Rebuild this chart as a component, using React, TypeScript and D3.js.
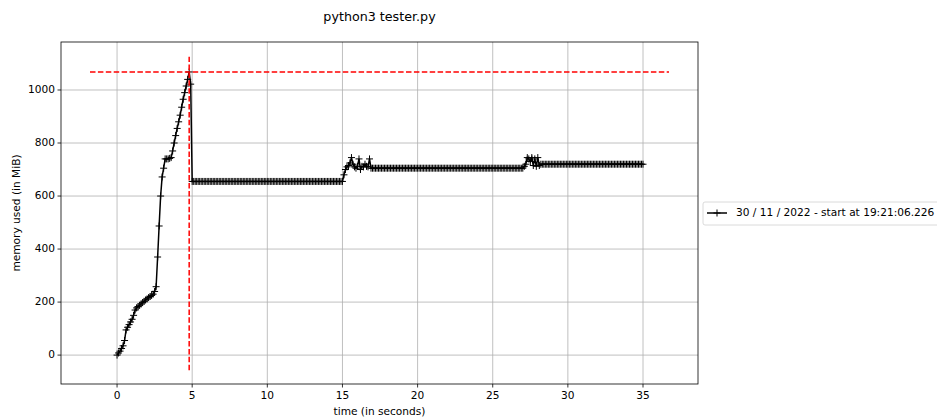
import React from "react";
import * as d3 from "d3";

const TITLE = "python3 tester.py";
const X_LABEL = "time (in seconds)";
const Y_LABEL = "memory used (in MiB)";
const LEGEND_LABEL = "30 / 11 / 2022 - start at 19:21:06.226";
const SAMPLE_INTERVAL = 0.1;
const X_TICKS = [0, 5, 10, 15, 20, 25, 30, 35];
const Y_TICKS = [0, 200, 400, 600, 800, 1000];
const X_DOMAIN = [-3.73, 38.66];
const Y_DOMAIN = [-109, 1181];

const MEMORY = [
  0, 8, 15, 25, 35, 55, 95, 105, 115, 125,
  135, 150, 170, 178, 183, 188, 193, 198, 203, 208,
  212, 217, 221, 225, 230, 240, 258,
  370, 487, 600, 672, 705, 740, 740, 740, 742, 745,
  770, 800, 828, 855, 880, 905, 935, 965, 990, 1015, 1040, 1068,
  1022,
  655, 655, 655, 655, 655, 655, 655, 655, 655, 655,
  655, 655, 655, 655, 655, 655, 655, 655, 655, 655,
  655, 655, 655, 655, 655, 655, 655, 655, 655, 655,
  655, 655, 655, 655, 655, 655, 655, 655, 655, 655,
  655, 655, 655, 655, 655, 655, 655, 655, 655, 655,
  655, 655, 655, 655, 655, 655, 655, 655, 655, 655,
  655, 655, 655, 655, 655, 655, 655, 655, 655, 655,
  655, 655, 655, 655, 655, 655, 655, 655, 655, 655,
  655, 655, 655, 655, 655, 655, 655, 655, 655, 655,
  655, 655, 655, 655, 655, 655, 655, 655, 655, 655,
  655,
  680, 700, 710, 715, 725, 745, 720, 710, 705, 712,
  740, 700, 712, 710, 720, 712, 710, 740, 705,
  705, 705, 705, 705, 705, 705, 705, 705, 705, 705,
  705, 705, 705, 705, 705, 705, 705, 705, 705, 705,
  705, 705, 705, 705, 705, 705, 705, 705, 705, 705,
  705, 705, 705, 705, 705, 705, 705, 705, 705, 705,
  705, 705, 705, 705, 705, 705, 705, 705, 705, 705,
  705, 705, 705, 705, 705, 705, 705, 705, 705, 705,
  705, 705, 705, 705, 705, 705, 705, 705, 705, 705,
  705, 705, 705, 705, 705, 705, 705, 705, 705, 705,
  705, 705, 705, 705, 705, 705, 705, 705, 705, 705,
  705, 705, 705, 705, 705, 705, 705, 705, 705, 705,
  705,
  712, 720, 745, 740, 730, 745, 715, 740, 712, 745, 715, 720,
  720, 720, 720, 720, 720, 720, 720, 720, 720, 720,
  720, 720, 720, 720, 720, 720, 720, 720, 720, 720,
  720, 720, 720, 720, 720, 720, 720, 720, 720, 720,
  720, 720, 720, 720, 720, 720, 720, 720, 720, 720,
  720, 720, 720, 720, 720, 720, 720, 720, 720, 720,
  720, 720, 720, 720, 720, 720, 720, 720, 720, 720,
  720, 720, 720, 720, 720, 720, 720, 720,
];

// max-memory marker lines (data units)
const MAX_H_X = [-1.8, 36.73];
const MAX_V_Y = [-57, 1125];

const FONT = "'DejaVu Sans', sans-serif";

export default function App() {
  const W = 937, H = 419;
  const L = 61, R = 698, T = 42, B = 384;
  const x = d3.scaleLinear().domain(X_DOMAIN).range([L, R]);
  const y = d3.scaleLinear().domain(Y_DOMAIN).range([B, T]);
  const pts = MEMORY.map((v, i) => [i * SAMPLE_INTERVAL, v] as [number, number]);
  const line = d3.line<[number, number]>().x(d => x(d[0])).y(d => y(d[1]));
  const maxIdx = d3.maxIndex(MEMORY);
  const maxT = maxIdx * SAMPLE_INTERVAL;
  const maxV = MEMORY[maxIdx];
  const m = 3.5;
  const fs = 10.6;
  return (
    <svg width={W} height={H} style={{ position: "absolute", left: 0, top: 0, background: "#fff" }} fontFamily={FONT}>
      <rect x={0} y={0} width={W} height={H} fill="#fff" />
      <text x={(L + R) / 2} y={21} textAnchor="middle" fontSize={12.7} fill="#000">{TITLE}</text>
      {/* grid */}
      {X_TICKS.map(t => (
        <line key={"gx" + t} x1={x(t)} x2={x(t)} y1={T} y2={B} stroke="#b0b0b0" strokeWidth={0.8} />
      ))}
      {Y_TICKS.map(t => (
        <line key={"gy" + t} x1={L} x2={R} y1={y(t)} y2={y(t)} stroke="#b0b0b0" strokeWidth={0.8} />
      ))}
      {/* series */}
      <path d={line(pts) || ""} fill="none" stroke="#000" strokeWidth={1.5} />
      {pts.map((p, i) => (
        <path key={"m" + i} d={`M${x(p[0]) - m},${y(p[1])}H${x(p[0]) + m}M${x(p[0])},${y(p[1]) - m}V${y(p[1]) + m}`} stroke="#000" strokeWidth={1} />
      ))}
      {/* max lines */}
      <line x1={x(MAX_H_X[0])} x2={x(MAX_H_X[1])} y1={y(maxV)} y2={y(maxV)} stroke="red" strokeWidth={1.5} strokeDasharray="5.5,2.4" />
      <line x1={x(maxT)} x2={x(maxT)} y1={y(MAX_V_Y[0])} y2={y(MAX_V_Y[1])} stroke="red" strokeWidth={1.5} strokeDasharray="5.5,2.4" />
      {/* axes box */}
      <rect x={L} y={T} width={R - L} height={B - T} fill="none" stroke="#000" strokeWidth={0.8} />
      {X_TICKS.map(t => (
        <g key={"xt" + t}>
          <line x1={x(t)} x2={x(t)} y1={B} y2={B + 3.5} stroke="#000" strokeWidth={0.8} />
          <text x={x(t)} y={B + 12} textAnchor="middle" fontSize={fs} fill="#000" dominantBaseline="middle">{t}</text>
        </g>
      ))}
      {Y_TICKS.map(t => (
        <g key={"yt" + t}>
          <line x1={L - 3.5} x2={L} y1={y(t)} y2={y(t)} stroke="#000" strokeWidth={0.8} />
          <text x={L - 6} y={y(t)} textAnchor="end" fontSize={fs} fill="#000" dominantBaseline="middle">{t}</text>
        </g>
      ))}
      <text x={(L + R) / 2} y={415} textAnchor="middle" fontSize={fs} fill="#000">{X_LABEL}</text>
      <text transform={`translate(20,${(T + B) / 2}) rotate(-90)`} textAnchor="middle" fontSize={fs} fill="#000">{Y_LABEL}</text>
      {/* legend */}
      <rect x={703} y={202} width={250} height={23} rx={2} fill="#fff" stroke="#d0d0d0" strokeWidth={0.8} />
      <line x1={707} x2={727} y1={213} y2={213} stroke="#000" strokeWidth={1.5} />
      <path d={`M${717 - m},213H${717 + m}M717,${213 - m}V${213 + m}`} stroke="#000" strokeWidth={1} />
      <text x={736} y={213} fontSize={fs} fill="#000" dominantBaseline="middle">{LEGEND_LABEL}</text>
    </svg>
  );
}
